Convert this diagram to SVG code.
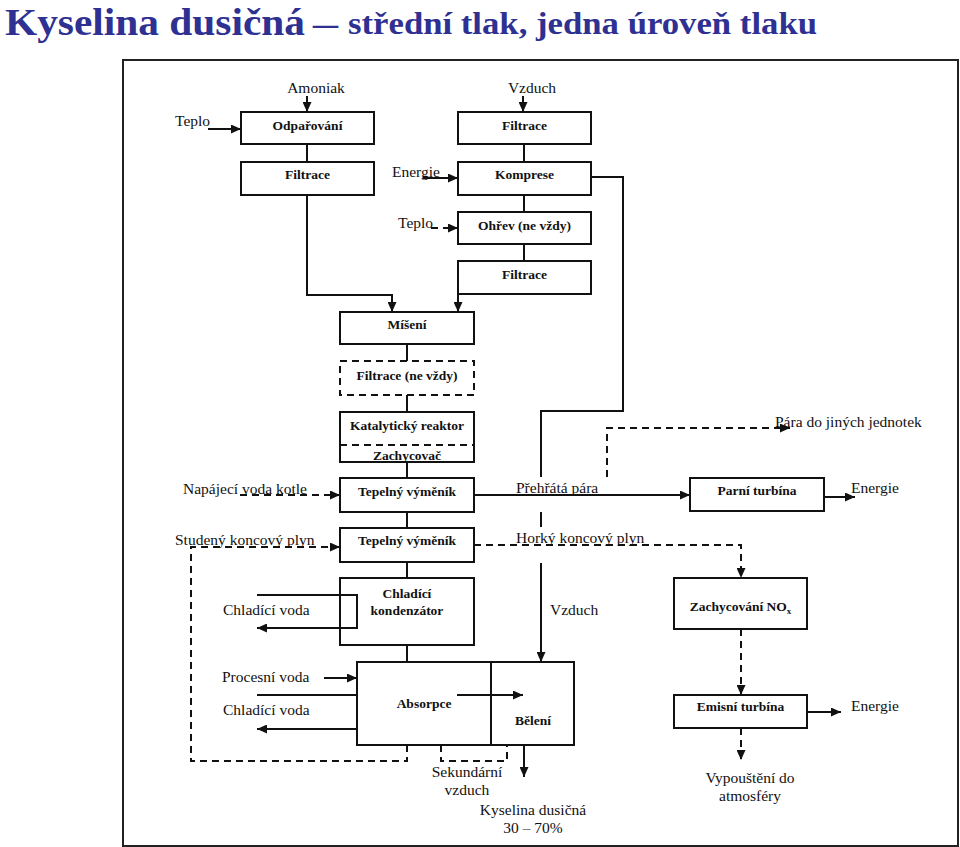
<svg xmlns="http://www.w3.org/2000/svg" width="960" height="847" viewBox="0 0 960 847">
<style>
.box{fill:none;stroke:#111;stroke-width:2}
.dbox{fill:none;stroke:#111;stroke-width:2;stroke-dasharray:7,5}
.ln{fill:none;stroke:#111;stroke-width:2}
.dl{fill:none;stroke:#111;stroke-width:2;stroke-dasharray:7,5}
.b{font-family:"Liberation Serif","Times New Roman",serif;font-weight:bold;font-size:13.5px;fill:#111;text-anchor:middle}
.t{font-family:"Liberation Serif","Times New Roman",serif;font-size:15.5px;fill:#111}
.tm{text-anchor:middle}
.title{font-family:"Liberation Serif","Times New Roman",serif;font-weight:bold;fill:#2e3192}
</style>
<defs>
<marker id="ah" markerUnits="userSpaceOnUse" markerWidth="11" markerHeight="9" refX="10" refY="4.5" orient="auto">
<path d="M0,0 L10,4.5 L0,9 z" fill="#111"/>
</marker>
</defs>
<rect width="960" height="847" fill="#fff"/>
<g id="title">
<text class="title" x="5" y="35" font-size="38" textLength="300" lengthAdjust="spacingAndGlyphs">Kyselina dusičná</text>
<text class="title" x="313" y="34" font-size="32" textLength="25" lengthAdjust="spacingAndGlyphs">–</text>
<text class="title" x="348" y="34" font-size="32" textLength="469" lengthAdjust="spacingAndGlyphs">střední tlak, jedna úroveň tlaku</text>
</g>
<rect id="frame" x="123" y="60" width="835" height="786" fill="none" stroke="#222" stroke-width="2"/>

<g id="connectors">
<path class="ln" d="M307,96 V112" marker-end="url(#ah)"/>
<path class="ln" d="M523,96 V112" marker-end="url(#ah)"/>
<path class="ln" d="M208,129 H241" marker-end="url(#ah)"/>
<path class="ln" d="M307,144 V162"/>
<path class="ln" d="M524,144 V162"/>
<path class="ln" d="M423,178 H458" marker-end="url(#ah)"/>
<path class="ln" d="M524,195 V212"/>
<path class="dl" d="M431,228 H458" marker-end="url(#ah)"/>
<path class="ln" d="M524,244 V261"/>
<path class="ln" d="M307,195 V295 H392 V312" marker-end="url(#ah)"/>
<path class="ln" d="M458,294 V312" marker-end="url(#ah)"/>
<path class="ln" d="M591,177 H623 V411 H541 V477"/>
<path class="ln" d="M541,512 V527"/>
<path class="ln" d="M541,563 V662" marker-end="url(#ah)"/>
<path class="ln" d="M407,344 V361"/>
<path class="ln" d="M407,395 V412"/>
<path class="ln" d="M407,462 V478"/>
<path class="ln" d="M407,512 V528"/>
<path class="ln" d="M407,562 V578"/>
<path class="ln" d="M407,645 V662"/>
<path class="dl" d="M240,495 H340" marker-end="url(#ah)"/>
<path class="dl" d="M407,745 V761 H191 V547 H340" marker-end="url(#ah)"/>
<path class="ln" d="M474,495 H690" marker-end="url(#ah)"/>
<path class="dl" d="M607,477 V428 H790" marker-end="url(#ah)"/>
<path class="ln" d="M824,497 H855" marker-end="url(#ah)"/>
<path class="dl" d="M474,545 H741 V578" marker-end="url(#ah)"/>
<path class="ln" d="M257,595 H357 V628 H257" marker-end="url(#ah)"/>
<path class="ln" d="M324,678 H357" marker-end="url(#ah)"/>
<path class="ln" d="M257,695 H357"/>
<path class="ln" d="M357,729 H257" marker-end="url(#ah)"/>
<path class="ln" d="M457,695 H523" marker-end="url(#ah)"/>
<path class="ln" d="M524,745 V777" marker-end="url(#ah)"/>
<path class="dl" d="M441,745 V761 H507 V745"/>
<path class="dl" d="M741,629 V695" marker-end="url(#ah)"/>
<path class="ln" d="M807,712 H841" marker-end="url(#ah)"/>
<path class="dl" d="M741,728 V760" marker-end="url(#ah)"/>
</g>

<g id="labels">
<text class="t tm" x="316" y="93">Amoniak</text>
<text class="t tm" x="532" y="93">Vzduch</text>
<text class="t" x="175" y="126">Teplo</text>
<text class="t" x="392" y="177">Energie</text>
<text class="t" x="398" y="228">Teplo</text>
<text class="t" x="183" y="494">Napájecí voda kotle</text>
<text class="t" x="175" y="545">Studený koncový plyn</text>
<text class="t" x="516" y="493">Přehřátá pára</text>
<text class="t" x="516" y="543">Horký koncový plyn</text>
<text class="t" x="775" y="427">Pára do jiných jednotek</text>
<text class="t" x="851" y="493">Energie</text>
<text class="t" x="223" y="615">Chladící voda</text>
<text class="t" x="550" y="615">Vzduch</text>
<text class="t" x="222" y="682">Procesní voda</text>
<text class="t" x="223" y="715">Chladící voda</text>
<text class="t tm" x="467" y="777">Sekundární</text>
<text class="t tm" x="467" y="795">vzduch</text>
<text class="t tm" x="533" y="815">Kyselina dusičná</text>
<text class="t tm" x="533" y="833">30 – 70%</text>
<text class="t" x="851" y="711">Energie</text>
<text class="t tm" x="750" y="783">Vypouštění do</text>
<text class="t tm" x="750" y="801">atmosféry</text>
</g>

<g id="n_odparovani"><rect class="box" x="241" y="112" width="133" height="32"/><text class="b" x="307.5" y="130">Odpařování</text></g>
<g id="n_filtrace1"><rect class="box" x="241" y="162" width="133" height="33"/><text class="b" x="307.5" y="179">Filtrace</text></g>
<g id="n_filtrace2"><rect class="box" x="458" y="112" width="133" height="32"/><text class="b" x="524.5" y="130">Filtrace</text></g>
<g id="n_komprese"><rect class="box" x="458" y="162" width="133" height="33"/><text class="b" x="524.5" y="179">Komprese</text></g>
<g id="n_ohrev"><rect class="box" x="458" y="212" width="133" height="32"/><text class="b" x="524.5" y="230">Ohřev (ne vždy)</text></g>
<g id="n_filtrace3"><rect class="box" x="458" y="261" width="133" height="33"/><text class="b" x="524.5" y="279">Filtrace</text></g>
<g id="n_miseni"><rect class="box" x="340" y="312" width="134" height="32"/><text class="b" x="407" y="329">Míšení</text></g>
<g id="n_filtrace4"><rect class="dbox" x="340" y="361" width="134" height="34"/><text class="b" x="407" y="380">Filtrace (ne vždy)</text></g>
<g id="n_reaktor"><rect class="box" x="340" y="412" width="134" height="50"/><path class="dl" d="M340,445 H474" stroke-dasharray="5,2"/><text class="b" x="407" y="430">Katalytický reaktor</text><text class="b" x="407" y="460">Zachycovač</text></g>
<g id="n_vymenik1"><rect class="box" x="340" y="478" width="134" height="34"/><text class="b" x="407" y="496">Tepelný výměník</text></g>
<g id="n_vymenik2"><rect class="box" x="340" y="528" width="134" height="34"/><text class="b" x="407" y="545">Tepelný výměník</text></g>
<g id="n_kondenzator"><rect class="box" x="340" y="578" width="134" height="67"/><text class="b" x="407" y="598">Chladící</text><text class="b" x="407" y="614.5">kondenzátor</text></g>
<g id="n_absorpce"><rect class="box" x="357" y="662" width="217" height="83"/><path class="ln" d="M491,662 V745"/><text class="b" x="424" y="708">Absorpce</text><text class="b" x="533" y="724.5">Bělení</text></g>
<g id="n_parni"><rect class="box" x="690" y="478" width="134" height="33"/><text class="b" x="757" y="494.5">Parní turbína</text></g>
<g id="n_nox"><rect class="box" x="674" y="578" width="133" height="51"/><text class="b" x="740.5" y="611">Zachycování NO<tspan font-size="9" dy="3">x</tspan></text></g>
<g id="n_emisni"><rect class="box" x="674" y="695" width="133" height="33"/><text class="b" x="740.5" y="711">Emisní turbína</text></g>
</svg>
